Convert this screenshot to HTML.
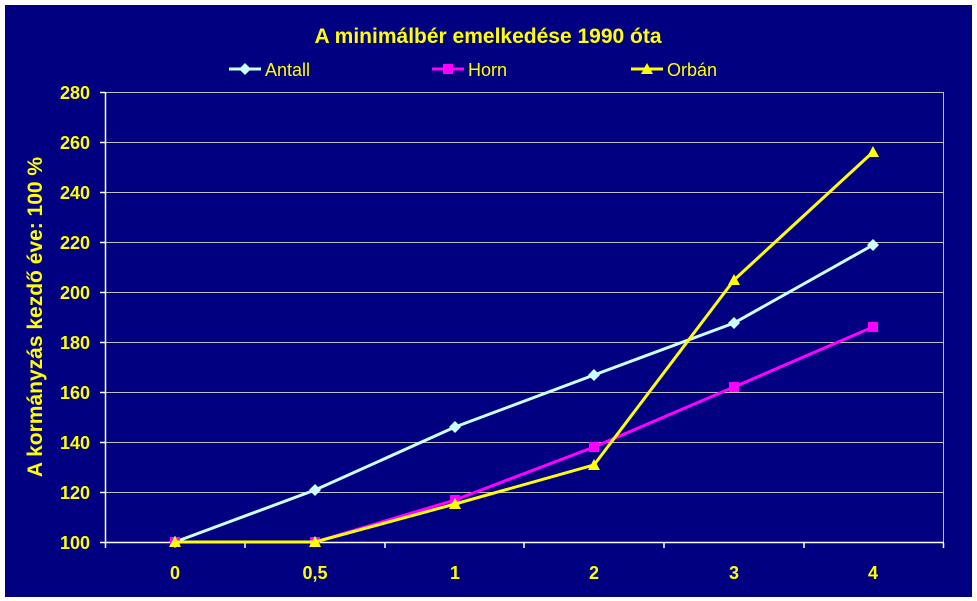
<!DOCTYPE html>
<html><head><meta charset="utf-8"><style>body{margin:0;background:#fff}svg{display:block}</style></head><body>
<svg width="977" height="601" xmlns="http://www.w3.org/2000/svg" font-family="Liberation Sans, Arial, sans-serif" font-weight="bold">
<rect x="5" y="5" width="967" height="592" fill="#000080"/>
<text x="488" y="43" text-anchor="middle" fill="#ffff00" font-size="21">A minimálbér emelkedése 1990 óta</text>
<g font-size="18" fill="#ffff00" font-weight="normal">
<line x1="229" y1="69" x2="261" y2="69" stroke="#ccffff" stroke-width="3"/><path d="M245 63 L251 69 L245 75 L239 69Z" fill="#ccffff"/><text x="265" y="76">Antall</text>
<line x1="432" y1="69" x2="464" y2="69" stroke="#ff00ff" stroke-width="3"/><rect x="443" y="64" width="10" height="10" fill="#ff00ff"/><text x="468" y="76">Horn</text>
<line x1="631" y1="69" x2="663" y2="69" stroke="#ffff00" stroke-width="3"/><path d="M647 63 L653 74 L641 74Z" fill="#ffff00"/><text x="667" y="76">Orbán</text>
</g>
<g stroke="#c0c0c0" stroke-width="1">
<line x1="105" y1="92.5" x2="943" y2="92.5"/><line x1="105" y1="142.5" x2="943" y2="142.5"/><line x1="105" y1="192.5" x2="943" y2="192.5"/><line x1="105" y1="242.5" x2="943" y2="242.5"/><line x1="105" y1="292.5" x2="943" y2="292.5"/><line x1="105" y1="342.5" x2="943" y2="342.5"/><line x1="105" y1="392.5" x2="943" y2="392.5"/><line x1="105" y1="442.5" x2="943" y2="442.5"/><line x1="105" y1="492.5" x2="943" y2="492.5"/>
<line x1="943.5" y1="92" x2="943.5" y2="543"/>
</g>
<g stroke="#fff" stroke-width="1.5">
<line x1="105.5" y1="92" x2="105.5" y2="543"/><line x1="105" y1="542.5" x2="944" y2="542.5"/>
<path d="M100 92.5H105M100 142.5H105M100 192.5H105M100 242.5H105M100 292.5H105M100 342.5H105M100 392.5H105M100 442.5H105M100 492.5H105M100 542.5H105"/>
<path d="M105.5 543V548M245 543V548M385 543V548M524 543V548M664 543V548M804 543V548M943.5 543V548"/>
</g>
<g font-size="18" fill="#ffff00" text-anchor="end">
<text x="90" y="99">280</text><text x="90" y="149">260</text><text x="90" y="199">240</text><text x="90" y="249">220</text><text x="90" y="299">200</text><text x="90" y="349">180</text><text x="90" y="399">160</text><text x="90" y="449">140</text><text x="90" y="499">120</text><text x="90" y="549">100</text>
</g>
<g font-size="18" fill="#ffff00" text-anchor="middle">
<text x="175" y="579">0</text><text x="315" y="579">0,5</text><text x="455" y="579">1</text><text x="594" y="579">2</text><text x="734" y="579">3</text><text x="873" y="579">4</text>
</g>
<text transform="translate(42,317) rotate(-90)" text-anchor="middle" font-size="21" fill="#ffff00">A kormányzás kezdő éve: 100 %</text>
<polyline fill="none" stroke="#ccffff" stroke-width="3" points="175,542 315,490 455,427 594,375 734,323 873,245"/>
<g fill="#ccffff"><path d="M175 536l6 6-6 6-6-6z"/><path d="M315 484l6 6-6 6-6-6z"/><path d="M455 421l6 6-6 6-6-6z"/><path d="M594 369l6 6-6 6-6-6z"/><path d="M734 317l6 6-6 6-6-6z"/><path d="M873 239l6 6-6 6-6-6z"/></g>
<polyline fill="none" stroke="#ff00ff" stroke-width="3" points="175,542 315,542 455,500 594,447 734,387 873,327"/>
<g fill="#ff00ff"><rect x="170" y="537" width="10" height="10"/><rect x="310" y="537" width="10" height="10"/><rect x="450" y="495" width="10" height="10"/><rect x="589" y="442" width="10" height="10"/><rect x="729" y="382" width="10" height="10"/><rect x="868" y="322" width="10" height="10"/></g>
<polyline fill="none" stroke="#ffff00" stroke-width="3" points="175,542 315,542 455,504 594,465 734,280 873,152"/>
<g fill="#ffff00"><path d="M175 536l6 11h-12z"/><path d="M315 536l6 11h-12z"/><path d="M455 498l6 11h-12z"/><path d="M594 459l6 11h-12z"/><path d="M734 274l6 11h-12z"/><path d="M873 146l6 11h-12z"/></g>
</svg>
</body></html>
